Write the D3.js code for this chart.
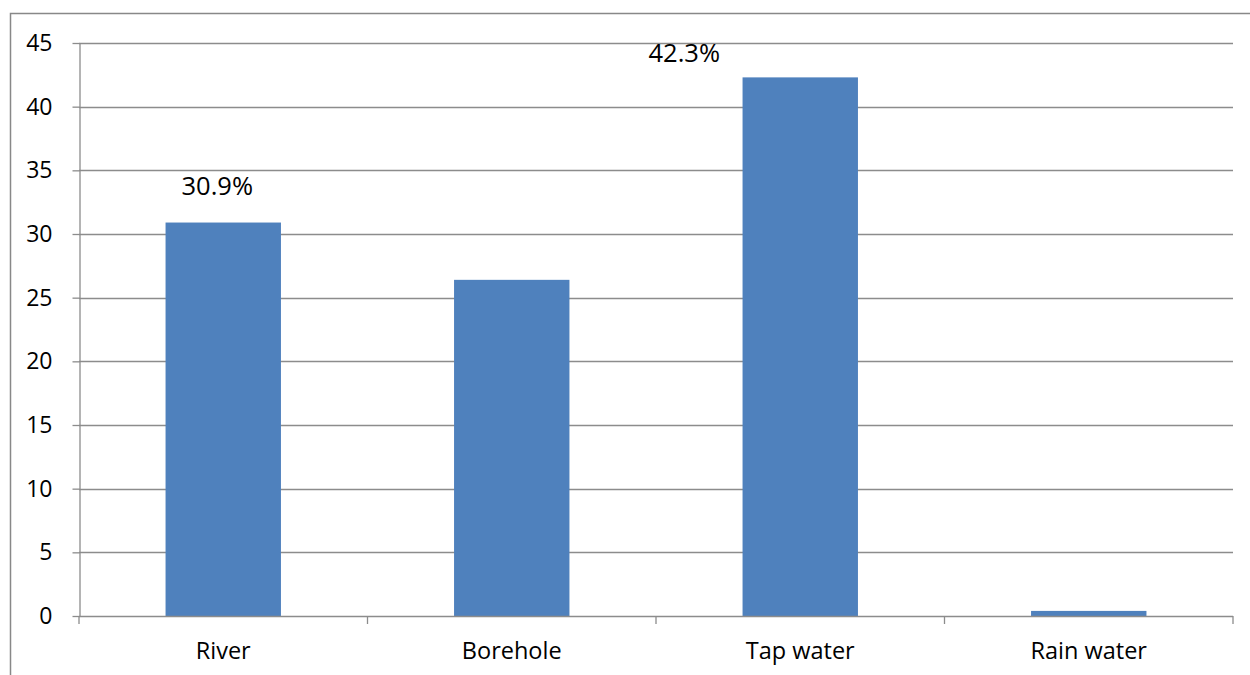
<!DOCTYPE html>
<html>
<head>
<meta charset="utf-8">
<script src="https://cdn.jsdelivr.net/npm/d3@7"></script>
<style>
  html, body { margin: 0; padding: 0; background: #fff; }
  svg { display: block; font-family: "Open Sans", "Noto Sans", sans-serif; }
</style>
</head>
<body>
<svg id="chart" width="1250" height="675"></svg>
<script>
// Main source of drinking water (% of households)
const categories = ["River", "Borehole", "Tap water", "Rain water"];
const values = [30.9, 26.4, 42.3, 0.4];
const yTicks = [0, 5, 10, 15, 20, 25, 30, 35, 40, 45];
const valueLabels = ["30.9%", null, "42.3%", null];

const svg = d3.select("#chart");
const W = 1250, H = 675;
const plot = { left: 79, right: 1233, top: 43, bottom: 616 };

// chart frame
svg.append("path")
  .attr("d", `M10.5,${H} V13.5 H${W}`)
  .attr("fill", "none")
  .attr("stroke", "#888")
  .attr("stroke-width", 1.5);

const x = d3.scaleBand()
  .domain(categories)
  .range([plot.left, plot.right])
  .paddingInner(0.6)
  .paddingOuter(0.3);

const xEdge = d3.scaleLinear()
  .domain([0, categories.length])
  .range([plot.left, plot.right]);

const y = d3.scaleLinear()
  .domain([0, 45])
  .range([plot.bottom, plot.top]);

// horizontal gridlines
svg.append("g")
  .selectAll("line")
  .data(yTicks.filter(t => t > 0))
  .join("line")
  .attr("x1", plot.left).attr("x2", plot.right)
  .attr("y1", d => Math.round(y(d)) + 0.5).attr("y2", d => Math.round(y(d)) + 0.5)
  .attr("stroke", "#8c8c8c")
  .attr("stroke-width", 1.3);

// y axis
const yAxis = svg.append("g")
  .attr("transform", `translate(${plot.left + 0.5},0)`)
  .call(d3.axisLeft(y).tickValues(yTicks).tickSize(7).tickPadding(20).tickSizeOuter(0));
yAxis.select(".domain").attr("stroke", "#8c8c8c").attr("stroke-width", 1.3);
yAxis.selectAll(".tick line").attr("stroke", "#8c8c8c").attr("stroke-width", 1.3);
yAxis.selectAll(".tick text")
  .attr("font-size", 23)
  .attr("font-family", "'Open Sans', sans-serif")
  .attr("fill", "#000");

// bars
svg.append("g")
  .selectAll("rect")
  .data(values)
  .join("rect")
  .attr("x", (d, i) => x(categories[i]))
  .attr("width", x.bandwidth())
  .attr("y", d => y(d))
  .attr("height", d => y(0) - y(d))
  .attr("fill", "#4f81bd");

// x axis baseline with category boundary ticks
svg.append("line")
  .attr("x1", plot.left).attr("x2", plot.right)
  .attr("y1", plot.bottom + 0.5).attr("y2", plot.bottom + 0.5)
  .attr("stroke", "#8c8c8c").attr("stroke-width", 1.3);
svg.append("g")
  .selectAll("line")
  .data(d3.range(categories.length + 1))
  .join("line")
  .attr("x1", d => xEdge(d)).attr("x2", d => xEdge(d))
  .attr("y1", plot.bottom).attr("y2", plot.bottom + 8)
  .attr("stroke", "#8c8c8c").attr("stroke-width", 1.3);

// category labels
svg.append("g")
  .selectAll("text")
  .data(categories)
  .join("text")
  .attr("x", d => x(d) + x.bandwidth() / 2)
  .attr("y", 659)
  .attr("text-anchor", "middle")
  .attr("font-size", 23.5)
  .attr("fill", "#000")
  .text(d => d);

// value labels
const labelOffset = [{ dx: -6, dy: -28 }, null, { dx: -116, dy: -15 }, null];
svg.append("g")
  .selectAll("text")
  .data(values.map((v, i) => ({ v, i })).filter(d => valueLabels[d.i]))
  .join("text")
  .attr("x", d => x(categories[d.i]) + x.bandwidth() / 2 + labelOffset[d.i].dx)
  .attr("y", d => y(d.v) + labelOffset[d.i].dy)
  .attr("text-anchor", "middle")
  .attr("font-size", 25.5)
  .attr("fill", "#000")
  .text(d => valueLabels[d.i]);
</script>
</body>
</html>
